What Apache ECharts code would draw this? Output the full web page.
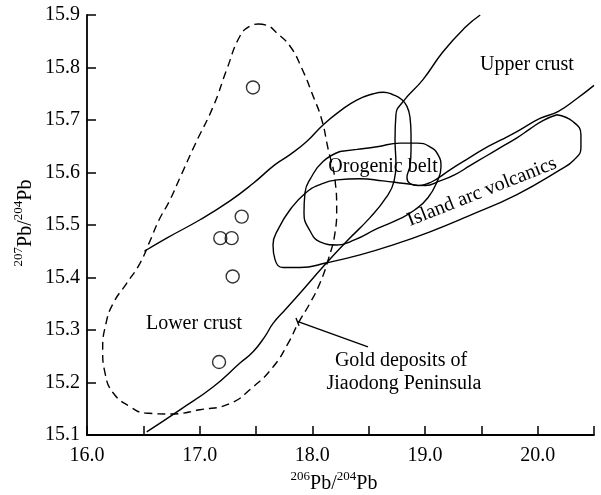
<!DOCTYPE html>
<html>
<head>
<meta charset="utf-8">
<script src="https://cdn.jsdelivr.net/npm/echarts@6/dist/echarts.min.js"></script>
<style>
  html, body { margin: 0; padding: 0; background: #fff; }
  #chart { width: 601px; height: 495px; }
</style>
</head>
<body>
<div id="chart"></div>
<script>
// Axis ranges (206Pb/204Pb on x, 207Pb/204Pb on y)
const X_MIN = 16.0, X_MAX = 20.5, X_STEP = 0.5;
const Y_MIN = 15.1, Y_MAX = 15.9, Y_STEP = 0.1;

// Measured ore samples
const samples = [
  [17.473, 15.762], [17.373, 15.516], [17.183, 15.475],
  [17.284, 15.475], [17.293, 15.402], [17.172, 15.239]
];

// Field of the Jiaodong gold deposits (dashed, closed)
const goldField = [
  [17.520, 15.883], [17.601, 15.880], [17.683, 15.866], [17.801, 15.841],
  [17.905, 15.799], [18.008, 15.745], [18.083, 15.701], [18.141, 15.644],
  [18.201, 15.586], [18.216, 15.529], [18.201, 15.485], [18.141, 15.434],
  [18.067, 15.389], [17.979, 15.351], [17.875, 15.313], [17.786, 15.275],
  [17.653, 15.230], [17.476, 15.192], [17.269, 15.160], [17.003, 15.148],
  [16.736, 15.140], [16.515, 15.142], [16.382, 15.154], [16.233, 15.180],
  [16.160, 15.218], [16.139, 15.262], [16.169, 15.313], [16.233, 15.351],
  [16.352, 15.389], [16.470, 15.427], [16.560, 15.470], [16.640, 15.510],
  [16.730, 15.545], [16.825, 15.590], [16.958, 15.653], [17.121, 15.726],
  [17.240, 15.796], [17.358, 15.860], [17.447, 15.879], [17.520, 15.883]
];

// Steep curve from the lower crust up into the upper crust
const steepCurve = [
  [16.530, 15.106], [16.825, 15.148], [17.121, 15.192], [17.358, 15.237],
  [17.476, 15.259], [17.580, 15.288], [17.653, 15.313], [17.757, 15.338],
  [17.890, 15.370], [18.097, 15.421], [18.305, 15.469], [18.512, 15.514],
  [18.654, 15.552], [18.725, 15.583], [18.742, 15.615], [18.734, 15.663],
  [18.742, 15.710], [18.805, 15.735], [18.982, 15.777], [19.160, 15.830],
  [19.355, 15.876], [19.490, 15.900]
];

// Upper-crust boundary that loops past the orogen and runs to the right edge
const upperCurve = [
  [16.509, 15.450], [16.707, 15.475], [17.003, 15.510], [17.269, 15.546],
  [17.473, 15.579], [17.669, 15.615], [17.802, 15.634], [17.950, 15.659],
  [18.097, 15.691], [18.245, 15.717], [18.394, 15.738], [18.541, 15.750],
  [18.630, 15.753], [18.718, 15.748], [18.793, 15.739], [18.840, 15.726],
  [18.867, 15.705], [18.876, 15.672], [18.876, 15.644], [18.867, 15.613],
  [18.840, 15.590], [18.867, 15.579], [18.938, 15.575], [19.026, 15.579],
  [19.106, 15.588], [19.222, 15.605], [19.364, 15.624], [19.515, 15.644],
  [19.665, 15.661], [19.816, 15.678], [20.020, 15.703], [20.180, 15.716],
  [20.349, 15.741], [20.500, 15.766]
];

// Island arc volcanics field (closed)
const islandArcField = [
  [20.171, 15.710], [20.313, 15.697], [20.384, 15.672], [20.384, 15.647],
  [20.322, 15.624], [20.198, 15.605], [19.816, 15.558], [19.373, 15.516],
  [19.044, 15.487], [18.716, 15.462], [18.423, 15.443], [18.130, 15.428],
  [17.890, 15.419], [17.740, 15.419], [17.669, 15.434], [17.651, 15.462],
  [17.704, 15.495], [17.802, 15.529], [17.935, 15.560], [18.068, 15.577],
  [18.219, 15.586], [18.423, 15.588], [18.627, 15.584], [18.822, 15.579],
  [19.000, 15.575], [19.133, 15.584], [19.266, 15.596], [19.399, 15.613],
  [19.532, 15.630], [19.665, 15.647], [19.816, 15.666], [19.932, 15.683],
  [20.047, 15.699], [20.171, 15.710]
];

// Orogenic belt field (closed)
const orogenicField = [
  [18.245, 15.640], [18.396, 15.644], [18.574, 15.649], [18.778, 15.656],
  [18.929, 15.656], [19.044, 15.649], [19.115, 15.634], [19.142, 15.611],
  [19.106, 15.582], [19.026, 15.552], [18.911, 15.529], [18.778, 15.512],
  [18.574, 15.493], [18.379, 15.472], [18.219, 15.462], [18.068, 15.468],
  [17.979, 15.489], [17.926, 15.523], [17.935, 15.562], [17.988, 15.590],
  [18.095, 15.621], [18.245, 15.640]
];

// Leader from the gold field to its caption
const leader = [[17.873, 15.316], [18.494, 15.268]];
const leaderTick = [[17.855, 15.323], [17.882, 15.308]];

const captionUpper = 'Upper crust';
const captionLower = 'Lower crust';
const captionOrogen = 'Orogenic belt';
const captionArc = 'Island arc volcanics';
const captionGold = ['Gold deposits of', 'Jiaodong Peninsula'];

const FONT = "'Liberation Serif', 'Times New Roman', serif";
const INK = '#000';

function curve(data, opts) {
  return Object.assign({
    type: 'line',
    data: data,
    symbol: 'none',
    smooth: 0.5,
    silent: true,
    z: 3,
    lineStyle: { color: INK, width: 1.4 }
  }, opts || {});
}

function caption(text, x, y, extra) {
  return Object.assign({
    type: 'text',
    x: x, y: y,
    silent: true,
    style: {
      text: text,
      fill: INK,
      font: '20px ' + FONT,
      align: 'center',
      verticalAlign: 'middle'
    }
  }, extra || {});
}

const supRich = {
  s: { fontSize: 13, fontFamily: FONT, fill: INK, color: INK, lineHeight: 14, verticalAlign: 'top' },
  n: { fontSize: 20, fontFamily: FONT, fill: INK, color: INK, lineHeight: 24, verticalAlign: 'bottom' }
};

const chart = echarts.init(document.getElementById('chart'), null, { renderer: 'canvas' });

chart.setOption({
  animation: false,
  backgroundColor: '#fff',
  grid: { left: 87, right: 7, top: 15, bottom: 60 },
  xAxis: {
    type: 'value',
    min: X_MIN, max: X_MAX, interval: X_STEP,
    axisLine: { lineStyle: { color: INK, width: 1.8 } },
    axisTick: { inside: true, length: 9, lineStyle: { color: INK, width: 1.5 } },
    splitLine: { show: false },
    axisLabel: {
      color: INK, fontFamily: FONT, fontSize: 20, margin: 11,
      formatter: v => (Math.abs(v - Math.round(v)) < 1e-6 ? v.toFixed(1) : '')
    }
  },
  yAxis: {
    type: 'value',
    min: Y_MIN, max: Y_MAX, interval: Y_STEP,
    axisLine: { lineStyle: { color: INK, width: 1.8 } },
    axisTick: { inside: true, length: 9, lineStyle: { color: INK, width: 1.5 } },
    splitLine: { show: false },
    axisLabel: {
      color: INK, fontFamily: FONT, fontSize: 20, margin: 7,
      formatter: v => v.toFixed(1)
    }
  },
  series: [
    curve(goldField, { lineStyle: { color: INK, width: 1.4, type: [8, 5] } }),
    curve(steepCurve),
    curve(upperCurve),
    curve(islandArcField),
    curve(orogenicField),
    curve(leader, { smooth: false }),
    curve(leaderTick, { smooth: false }),
    {
      type: 'scatter',
      data: samples,
      symbol: 'circle',
      symbolSize: 13,
      silent: true,
      z: 4,
      itemStyle: { color: 'rgba(0,0,0,0)', borderColor: INK, borderWidth: 1.4 }
    }
  ],
  graphic: [
    caption(captionUpper, 527, 65),
    caption(captionLower, 194, 324),
    caption(captionOrogen, 383, 167),
    caption(captionArc, 482, 192, { rotation: 21.6 * Math.PI / 180 }),
    caption(captionGold[0], 401, 361),
    caption(captionGold[1], 404, 384),
    {
      type: 'text', x: 334, y: 482, silent: true,
      style: {
        text: '{s|206}{n|Pb/}{s|204}{n|Pb}', rich: supRich,
        align: 'center', verticalAlign: 'middle', fill: INK
      }
    },
    {
      type: 'text', x: 24, y: 223, rotation: Math.PI / 2, silent: true,
      style: {
        text: '{s|207}{n|Pb/}{s|204}{n|Pb}', rich: supRich,
        align: 'center', verticalAlign: 'middle', fill: INK
      }
    }
  ]
});
</script>
</body>
</html>
